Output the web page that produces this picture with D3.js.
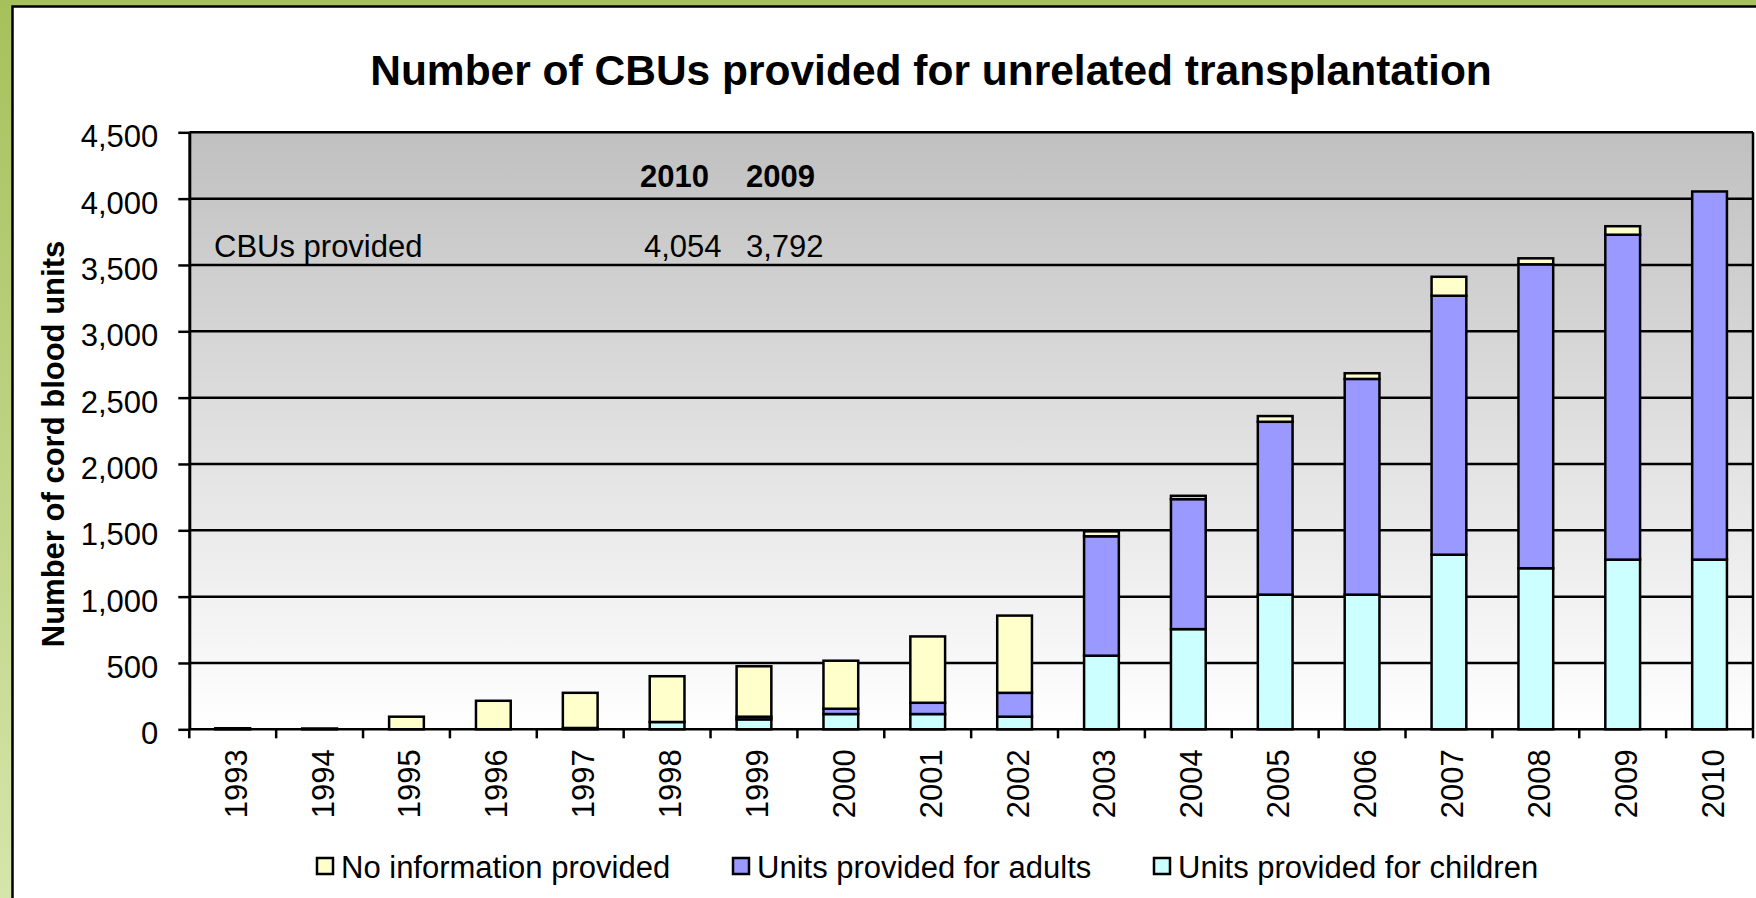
<!DOCTYPE html>
<html>
<head>
<meta charset="utf-8">
<title>CBUs provided</title>
<style>
*{ margin:0; padding:0; }
html,body{ width:1756px; height:898px; overflow:hidden; background:#fff; }
svg{ display:block; font-family:"Liberation Sans", Arial, sans-serif; }
</style>
</head>
<body>
<script src="https://cdn.jsdelivr.net/npm/d3@7"></script>
<script>
// data
var years = ["1993","1994","1995","1996","1997","1998","1999","2000","2001","2002",
             "2003","2004","2005","2006","2007","2008","2009","2010"];
var children = [0, 0, 0, 0, 10, 55, 75, 115, 115, 95, 555, 755, 1015, 1015, 1316, 1214, 1279, 1279];
var adults   = [0, 0, 0, 0, 0, 0, 20, 40, 85, 180, 900, 980, 1303, 1626, 1952, 2291, 2449, 2775];
var noInfo   = [8, 6, 95, 215, 265, 345, 380, 362, 500, 582, 37, 25, 43, 43, 143, 45, 64, 0];
var yTicks = [0, 500, 1000, 1500, 2000, 2500, 3000, 3500, 4000, 4500];

var seriesKeys = ["children", "adults", "noInfo"];
var seriesNames = {
  noInfo: "No information provided",
  adults: "Units provided for adults",
  children: "Units provided for children"
};
var seriesColors = { noInfo: "#FFFFCC", adults: "#9999FF", children: "#CCFFFF" };
var legendOrder = ["noInfo", "adults", "children"];

var summaryYears = ["2010", "2009"];
var summaryValues = ["4,054", "3,792"];
var summaryLabel = "CBUs provided";

var width = 1756, height = 898;
var margin = { top: 132.3, right: 3, bottom: 168.7, left: 189.3 };

var table = years.map(function(y, i){
  return { year: y, children: children[i], adults: adults[i], noInfo: noInfo[i] };
});

var svg = d3.select("body").append("svg")
  .attr("width", width).attr("height", height);

var defs = svg.append("defs");
var g1 = defs.append("linearGradient").attr("id", "frame").attr("x1", 0).attr("y1", 0).attr("x2", 0).attr("y2", 1);
g1.append("stop").attr("offset", "0%").attr("stop-color", "#a6c15b");
g1.append("stop").attr("offset", "100%").attr("stop-color", "#d6e5ab");
var g2 = defs.append("linearGradient").attr("id", "plotbg").attr("x1", 0).attr("y1", 0).attr("x2", 0).attr("y2", 1);
g2.append("stop").attr("offset", "0%").attr("stop-color", "#c0c0c0");
g2.append("stop").attr("offset", "100%").attr("stop-color", "#ffffff");

// green frame + white panel
svg.append("rect").attr("width", width).attr("height", height).attr("fill", "url(#frame)");
svg.append("rect")
  .attr("x", 12.5).attr("y", 6.5)
  .attr("width", width + 20).attr("height", height + 20)
  .attr("fill", "#fff").attr("stroke", "#000").attr("stroke-width", 2.5);

var x = d3.scaleBand()
  .domain(years)
  .range([margin.left, width - margin.right])
  .paddingInner(0.6)
  .paddingOuter(0.3);

var y = d3.scaleLinear()
  .domain([0, 4500])
  .range([height - margin.bottom, margin.top]);

var x0 = margin.left, x1 = width - margin.right;

// plot background
svg.append("rect")
  .attr("x", x0).attr("y", y(4500))
  .attr("width", x1 - x0).attr("height", y(0) - y(4500))
  .attr("fill", "url(#plotbg)");

// gridlines
svg.append("g")
  .selectAll("line")
  .data(yTicks.filter(function(d){ return d > 0; }))
  .join("line")
  .attr("x1", x0).attr("x2", x1)
  .attr("y1", function(d){ return y(d); }).attr("y2", function(d){ return y(d); })
  .attr("stroke", "#000").attr("stroke-width", 2.5);

// right border
svg.append("line")
  .attr("x1", x1).attr("x2", x1).attr("y1", y(4500)).attr("y2", y(0))
  .attr("stroke", "#000").attr("stroke-width", 2.5);

// summary text block
var sumG = svg.append("g").attr("font-size", 31).attr("fill", "#000");
var sumX = [640, 746];
var sumValX = [644, 746];
sumG.selectAll("text.yr").data(summaryYears).join("text")
  .attr("class", "yr")
  .attr("x", function(d, i){ return sumX[i]; }).attr("y", 187)
  .attr("font-weight", "bold")
  .text(function(d){ return d; });
sumG.append("text").attr("x", 214).attr("y", 257).text(summaryLabel);
sumG.selectAll("text.val").data(summaryValues).join("text")
  .attr("class", "val")
  .attr("x", function(d, i){ return sumValX[i]; }).attr("y", 257)
  .text(function(d){ return d; });

// stacked bars
var stacked = d3.stack().keys(seriesKeys)(table);
svg.append("g")
  .attr("class", "bars")
  .selectAll("g")
  .data(stacked)
  .join("g")
  .attr("fill", function(s){ return seriesColors[s.key]; })
  .selectAll("rect")
  .data(function(s){ return s.filter(function(d){ return d[1] - d[0] > 0; }); })
  .join("rect")
  .attr("x", function(d){ return x(d.data.year); })
  .attr("y", function(d){ return y(d[1]); })
  .attr("width", x.bandwidth())
  .attr("height", function(d){ return y(d[0]) - y(d[1]); })
  .attr("stroke", "#000").attr("stroke-width", 2.5);

// y axis
var yAxis = svg.append("g")
  .attr("transform", "translate(" + x0 + ",0)")
  .call(d3.axisLeft(y).tickValues(yTicks).tickFormat(d3.format(",")).tickSize(11).tickSizeOuter(0).tickPadding(20));
yAxis.select(".domain").attr("stroke", "#000").attr("stroke-width", 3);
yAxis.selectAll(".tick line").attr("stroke", "#000").attr("stroke-width", 2.5);
yAxis.selectAll(".tick text")
  .attr("font-size", 31).attr("font-family", "Liberation Sans, Arial, sans-serif")
  .attr("fill", "#000").attr("dy", "0.47em");

// x axis: labels at band centres, ticks at band edges
var xAxis = svg.append("g")
  .attr("transform", "translate(0," + y(0) + ")")
  .call(d3.axisBottom(x).tickSize(0).tickSizeOuter(0));
xAxis.select(".domain").remove();
xAxis.selectAll(".tick text")
  .attr("font-size", 31).attr("font-family", "Liberation Sans, Arial, sans-serif")
  .attr("fill", "#000")
  .attr("transform", "rotate(-90)")
  .attr("text-anchor", "end")
  .attr("x", -20).attr("y", 0).attr("dy", "0.45em");

svg.append("line")
  .attr("x1", x0).attr("x2", x1).attr("y1", y(0)).attr("y2", y(0))
  .attr("stroke", "#000").attr("stroke-width", 2.5);
var edges = d3.range(years.length + 1).map(function(i){ return x0 + i * x.step(); });
svg.append("g").selectAll("line").data(edges).join("line")
  .attr("x1", function(d){ return d; }).attr("x2", function(d){ return d; })
  .attr("y1", y(0)).attr("y2", y(0) + 9)
  .attr("stroke", "#000").attr("stroke-width", 2.5);

// titles
svg.append("text")
  .attr("x", 931).attr("y", 85)
  .attr("text-anchor", "middle")
  .attr("font-size", 42.5).attr("font-weight", "bold")
  .text("Number of CBUs provided for unrelated transplantation");

svg.append("text")
  .attr("transform", "translate(64,444) rotate(-90)")
  .attr("text-anchor", "middle")
  .attr("font-size", 31).attr("font-weight", "bold")
  .text("Number of cord blood units");

// legend
var legX = [317, 733, 1154];
var legend = svg.append("g").selectAll("g").data(legendOrder).join("g")
  .attr("transform", function(d, i){ return "translate(" + legX[i] + ",858)"; });
legend.append("rect")
  .attr("width", 16).attr("height", 16)
  .attr("fill", function(d){ return seriesColors[d]; })
  .attr("stroke", "#000").attr("stroke-width", 2.5);
legend.append("text")
  .attr("x", 24).attr("y", 20)
  .attr("font-size", 31)
  .text(function(d){ return seriesNames[d]; });
</script>
</body>
</html>
